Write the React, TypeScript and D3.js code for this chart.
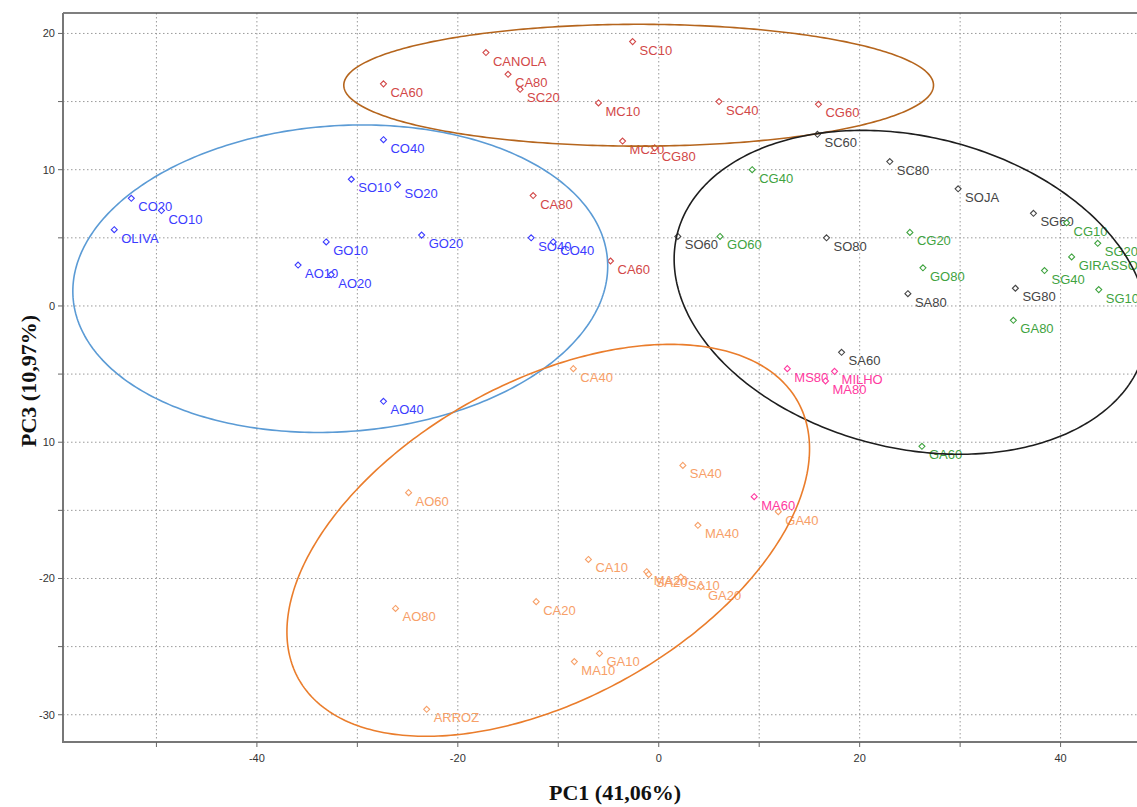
import React from "react";
import * as d3 from "d3";

// PCA scores (PC1, PC3) grouped by cluster: [label, pc1, pc3]
const redScores: [string, number, number][] = [
  ["CANOLA", -17.2, 18.6],
  ["CA60", -27.4, 16.3],
  ["CA80", -15.0, 17.0],
  ["SC20", -13.8, 15.9],
  ["SC10", -2.6, 19.4],
  ["MC10", -6.0, 14.9],
  ["MC20", -3.6, 12.1],
  ["CG80", -0.4, 11.6],
  ["SC40", 6.0, 15.0],
  ["CG60", 15.9, 14.8],
  ["CA80", -12.5, 8.1],
  ["CA60", -4.8, 3.3],
];

const blueScores: [string, number, number][] = [
  ["CO20", -52.5, 7.9],
  ["CO10", -49.5, 7.0],
  ["OLIVA", -54.2, 5.6],
  ["CO40", -27.4, 12.2],
  ["SO10", -30.6, 9.3],
  ["SO20", -26.0, 8.9],
  ["GO10", -33.1, 4.7],
  ["AO10", -35.9, 3.0],
  ["AO20", -32.6, 2.3],
  ["GO20", -23.6, 5.2],
  ["SO40", -12.7, 5.0],
  ["CO40", -10.5, 4.7],
  ["AO40", -27.4, -7.0],
];

const orangeScores: [string, number, number][] = [
  ["CA40", -8.5, -4.6],
  ["SA40", 2.4, -11.7],
  ["AO60", -24.9, -13.7],
  ["MA40", 3.9, -16.1],
  ["GA40", 11.9, -15.1],
  ["CA10", -7.0, -18.6],
  ["MA20", -1.2, -19.5],
  ["SA20", -1.0, -19.7],
  ["SA10", 2.2, -19.9],
  ["GA20", 4.2, -20.6],
  ["AO80", -26.2, -22.2],
  ["CA20", -12.2, -21.7],
  ["MA10", -8.4, -26.1],
  ["GA10", -5.9, -25.5],
  ["ARROZ", -23.1, -29.6],
];

const pinkScores: [string, number, number][] = [
  ["MS80", 12.8, -4.6],
  ["MILHO", 17.5, -4.8],
  ["MA80", 16.6, -5.5],
  ["MA60", 9.5, -14.0],
];

const blackScores: [string, number, number][] = [
  ["SC60", 15.8, 12.6],
  ["SC80", 23.0, 10.6],
  ["SOJA", 29.8, 8.6],
  ["SG60", 37.3, 6.8],
  ["SO60", 1.9, 5.1],
  ["SO80", 16.7, 5.0],
  ["SA80", 24.8, 0.9],
  ["SG80", 35.5, 1.3],
  ["SA60", 18.2, -3.4],
];

const greenScores: [string, number, number][] = [
  ["CG40", 9.3, 10.0],
  ["GO60", 6.1, 5.1],
  ["CG20", 25.0, 5.4],
  ["GO80", 26.3, 2.8],
  ["CG10", 40.6, 6.1],
  ["SG20", 43.7, 4.6],
  ["GIRASSOL", 41.1, 3.6],
  ["SG40", 38.4, 2.6],
  ["SG10", 43.8, 1.2],
  ["GA80", 35.3, -1.05],
  ["GA60", 26.2, -10.3],
];

// Cluster ellipses in score units: centre, major and minor semi-axis vectors
const ellipseCentres: [number, number][] = [
  [-2.0, 16.2],
  [-31.7, 2.0],
  [25.1, 1.0],
  [-11.0, -17.2],
];
const ellipseMajor: [number, number][] = [
  [29.35, 0],
  [26.6, 1.37],
  [23.27, -4.25],
  [24.86, 10.16],
];
const ellipseMinor: [number, number][] = [
  [0, 4.47],
  [1.06, -11.2],
  [-3.73, -11.1],
  [7.65, -10.18],
];

const xTicks = [-50, -40, -30, -20, -10, 0, 10, 20, 30, 40];
const xTickLabels = ["", "-40", "", "-20", "", "0", "", "20", "", "40"];
const yTicks = [-30, -25, -20, -15, -10, -5, 0, 5, 10, 15, 20];
const yTickLabels = ["-30", "", "-20", "", "10", "", "0", "", "10", "", "20"];

const groups = [
  { pts: redScores, color: "#d24848" },
  { pts: blueScores, color: "#3b3bff" },
  { pts: orangeScores, color: "#f7a068" },
  { pts: pinkScores, color: "#ff3aa0" },
  { pts: blackScores, color: "#454545" },
  { pts: greenScores, color: "#3fa33f" },
];
const ellipseColors = ["#b5651d", "#5b9bd5", "#1e1e1e", "#ea7d2c"];

const W = 1137;
const H = 807;
const left = 63;
const right = 1150;
const top = 13;
const bottom = 742;

export default function App() {
  const x = d3.scaleLinear().domain([-59.3, 48.9]).range([left, right]);
  const y = d3.scaleLinear().domain([-32.0, 21.5]).range([bottom, top]);

  const line = d3
    .line<[number, number]>()
    .x((d) => x(d[0]))
    .y((d) => y(d[1]))
    .curve(d3.curveLinearClosed);

  const ellipsePaths = ellipseCentres.map((c, i) => {
    const a = ellipseMajor[i];
    const b = ellipseMinor[i];
    const pts: [number, number][] = d3.range(0, 360, 1).map((deg) => {
      const t = (deg * Math.PI) / 180;
      return [
        c[0] + a[0] * Math.cos(t) + b[0] * Math.sin(t),
        c[1] + a[1] * Math.cos(t) + b[1] * Math.sin(t),
      ];
    });
    return line(pts) || "";
  });

  const diamond = (cx: number, cy: number) =>
    `M${cx},${cy - 3}L${cx + 3},${cy}L${cx},${cy + 3}L${cx - 3},${cy}Z`;

  return (
    <svg
      width={W}
      height={H}
      style={{ position: "absolute", left: 0, top: 0, background: "#fff" }}
      fontFamily="'Liberation Sans', Arial, sans-serif"
    >
      <defs>
        <clipPath id="plotClip">
          <rect x={left} y={top} width={right - left} height={bottom - top} />
        </clipPath>
      </defs>
      <rect x={0} y={0} width={W} height={H} fill="#fff" />

      {/* grid */}
      <g stroke="#9a9a9a" strokeWidth={1} strokeDasharray="1.5,2.5">
        {xTicks.map((t) => (
          <line key={`gx${t}`} x1={x(t)} x2={x(t)} y1={top} y2={bottom} />
        ))}
        {yTicks.map((t) => (
          <line key={`gy${t}`} x1={left} x2={right} y1={y(t)} y2={y(t)} />
        ))}
      </g>

      {/* frame */}
      <line x1={left} x2={W} y1={top} y2={top} stroke="#555" strokeWidth={1.5} />
      <line x1={left} x2={left} y1={top} y2={bottom} stroke="#777" strokeWidth={2} />
      <line x1={left - 1} x2={W} y1={bottom} y2={bottom} stroke="#777" strokeWidth={2} />

      {/* ticks */}
      <g stroke="#666" strokeWidth={1}>
        {xTicks.map((t) => (
          <line key={`tx${t}`} x1={x(t)} x2={x(t)} y1={bottom} y2={bottom + 5} />
        ))}
        {yTicks.map((t) => (
          <line key={`ty${t}`} x1={left - 5} x2={left} y1={y(t)} y2={y(t)} />
        ))}
      </g>
      <g fontSize={11} fill="#333">
        {xTicks.map((t, i) =>
          xTickLabels[i] ? (
            <text key={`lx${t}`} x={x(t)} y={bottom + 20} textAnchor="middle">
              {xTickLabels[i]}
            </text>
          ) : null
        )}
        {yTicks.map((t, i) =>
          yTickLabels[i] ? (
            <text key={`ly${t}`} x={left - 8} y={y(t) + 4} textAnchor="end">
              {yTickLabels[i]}
            </text>
          ) : null
        )}
      </g>

      {/* scores */}
      <g clipPath="url(#plotClip)">
        {groups.map((g, gi) =>
          g.pts.map(([name, px, py], i) => (
            <g key={`p${gi}-${i}`}>
              <path
                d={diamond(x(px), y(py))}
                fill="#fff"
                stroke={g.color}
                strokeWidth={1.1}
              />
              <text x={x(px) + 7} y={y(py) + 13} fontSize={13} fill={g.color}>
                {name}
              </text>
            </g>
          ))
        )}
        {ellipsePaths.map((d, i) => (
          <path key={`e${i}`} d={d} fill="none" stroke={ellipseColors[i]} strokeWidth={1.6} />
        ))}
      </g>

      {/* axis titles */}
      <text
        x={615}
        y={800}
        textAnchor="middle"
        fontFamily="'Liberation Serif', 'Times New Roman', serif"
        fontWeight="bold"
        fontSize={22}
        fill="#111"
      >
        PC1 (41,06%)
      </text>
      <text
        transform="translate(36,381) rotate(-90)"
        textAnchor="middle"
        fontFamily="'Liberation Serif', 'Times New Roman', serif"
        fontWeight="bold"
        fontSize={22}
        fill="#111"
      >
        PC3 (10,97%)
      </text>
    </svg>
  );
}
